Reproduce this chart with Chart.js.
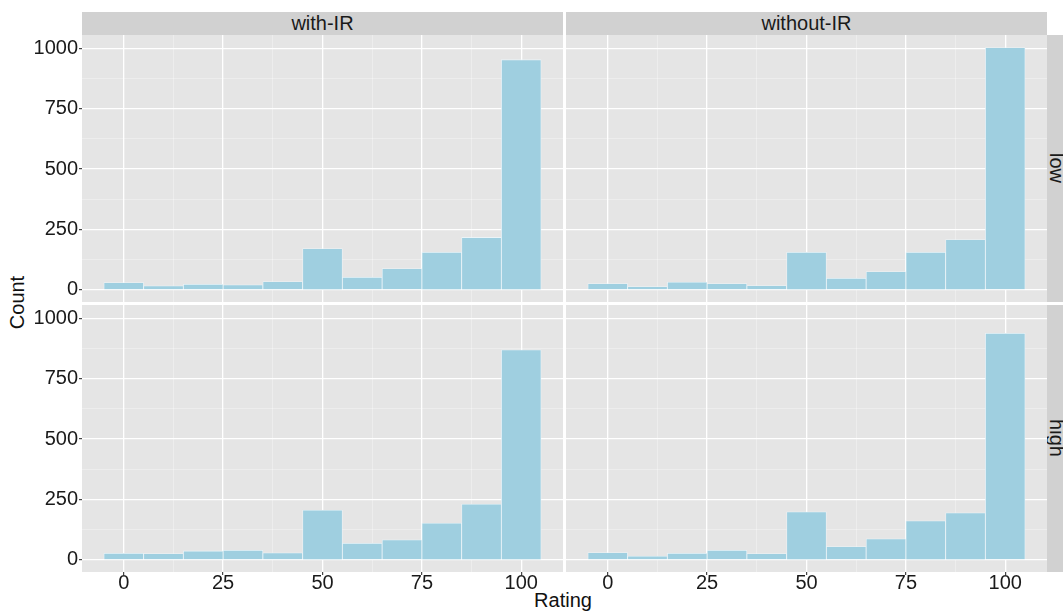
<!DOCTYPE html>
<html><head><meta charset="utf-8">
<script src="https://cdn.jsdelivr.net/npm/chart.js@4.4.1/dist/chart.umd.min.js"></script>
<style>
html,body{margin:0;padding:0;background:#fff;width:1063px;height:615px;overflow:hidden;font-family:"Liberation Sans",Arial,sans-serif;}
canvas{position:absolute;}
.strip{position:absolute;background:#D1D1D1;color:#1a1a1a;font-size:20px;overflow:hidden;white-space:nowrap;}
.strip.top{display:flex;align-items:center;justify-content:center;}
.rot{position:absolute;left:-20px;width:60px;text-align:center;line-height:20px;transform:rotate(90deg);}
.lbl{position:absolute;color:#111;font-size:20px;white-space:nowrap;transform-origin:center center;}
</style></head><body>
<div class="strip top" style="left:82px;top:12px;width:481px;height:23px;">with-IR</div>
<div class="strip top" style="left:566px;top:12px;width:481px;height:23px;">without-IR</div>
<div class="strip" style="left:1047px;top:35px;width:24px;height:267px;"><span class="rot" style="top:123px;">low</span></div>
<div class="strip" style="left:1047px;top:305px;width:24px;height:267px;"><span class="rot" style="top:123px;">high</span></div>
<div class="lbl" style="left:-13px;top:291px;width:60px;text-align:center;transform:rotate(-90deg);">Count</div>
<div class="lbl" style="left:513px;top:589px;width:100px;text-align:center;">Rating</div>

<canvas id="tl" width="563" height="267" style="left:0px;top:35px;width:563px;height:267px;"></canvas>
<canvas id="tr" width="481" height="267" style="left:566px;top:35px;width:481px;height:267px;"></canvas>
<canvas id="bl" width="563" height="297" style="left:0px;top:305px;width:563px;height:297px;"></canvas>
<canvas id="br" width="481" height="297" style="left:566px;top:305px;width:481px;height:297px;"></canvas>

<script>
// ---- data ----
const bins = [0, 10, 20, 30, 40, 50, 60, 70, 80, 90, 100];
const withIR_low     = [30, 17, 23, 21, 34, 171, 52, 88, 156, 217, 953];
const withoutIR_low  = [26, 14, 32, 26, 18, 156, 48, 76, 156, 208, 1003];
const withIR_high    = [27, 26, 37, 40, 29, 206, 69, 83, 152, 231, 870];
const withoutIR_high = [30, 16, 27, 40, 26, 199, 55, 87, 162, 195, 938];
const xTickValues = [0, 12.5, 25, 37.5, 50, 62.5, 75, 87.5, 100];
const xMajor = [0, 25, 50, 75, 100];
const yTickValues = [0, 125, 250, 375, 500, 625, 750, 875, 1000];
const yMajor = [0, 250, 500, 750, 1000];

const panelBg = {
  id: 'panelBg',
  beforeDraw(chart) {
    const {ctx, chartArea: a} = chart;
    ctx.save();
    ctx.fillStyle = '#E5E5E5';
    ctx.fillRect(a.left, a.top, a.right - a.left, a.bottom - a.top);
    ctx.restore();
  }
};

const FONT = {family: '"Liberation Sans", Arial, sans-serif', size: 20};

function makePanel(id, values, showY, showX) {
  const data = bins.map((b, i) => ({x: b, y: values[i]}));
  new Chart(document.getElementById(id), {
    type: 'bar',
    data: {
      datasets: [{
        data: data,
        backgroundColor: '#9FCFE0',
        borderColor: 'rgba(235,245,250,0.9)',
        borderWidth: 0.8,
        barPercentage: 1,
        categoryPercentage: 1
      }]
    },
    plugins: [panelBg],
    options: {
      responsive: false,
      animation: false,
      devicePixelRatio: 1,
      layout: {padding: 0},
      plugins: {legend: {display: false}, tooltip: {enabled: false}, title: {display: false}},
      scales: {
        x: {
          type: 'linear',
          min: -10.5, max: 110.5,
          offset: false,
          border: {display: false},
          afterBuildTicks: s => { s.ticks = xTickValues.map(v => ({value: v})); },
          afterFit: s => { s.height = showX ? 30 : 0; s.paddingLeft = 0; s.paddingRight = 0; },
          grid: {
            offset: false,
            drawTicks: showX,
            tickLength: 3,
            tickWidth: 1.1,
            tickColor: c => (c.tick && xMajor.includes(c.tick.value)) ? '#333333' : 'rgba(0,0,0,0)',
            color: c => (c.tick && xMajor.includes(c.tick.value)) ? '#FFFFFF' : 'rgba(255,255,255,0.55)',
            lineWidth: c => (c.tick && xMajor.includes(c.tick.value)) ? 1.3 : 0.6
          },
          ticks: {
            display: showX,
            autoSkip: false,
            maxRotation: 0,
            padding: -2,
            color: '#1a1a1a',
            font: Object.assign({lineHeight: 1}, FONT),
            callback: v => xMajor.includes(v) ? String(v) : ''
          }
        },
        y: {
          type: 'linear',
          min: -50.25, max: 1055.25,
          border: {display: false},
          afterBuildTicks: s => { s.ticks = yTickValues.map(v => ({value: v})); },
          afterFit: s => { s.width = showY ? 82 : 0; s.paddingTop = 0; s.paddingBottom = 0; },
          grid: {
            drawTicks: showY,
            tickLength: 3,
            tickWidth: 1.1,
            tickColor: c => (c.tick && yMajor.includes(c.tick.value)) ? '#333333' : 'rgba(0,0,0,0)',
            color: c => (c.tick && yMajor.includes(c.tick.value)) ? '#FFFFFF' : 'rgba(255,255,255,0.55)',
            lineWidth: c => (c.tick && yMajor.includes(c.tick.value)) ? 1.3 : 0.6
          },
          ticks: {
            display: showY,
            autoSkip: false,
            padding: 1,
            color: '#1a1a1a',
            font: FONT,
            callback: v => yMajor.includes(v) ? String(v) : ''
          }
        }
      }
    }
  });
}

makePanel('tl', withIR_low, true, false);
makePanel('tr', withoutIR_low, false, false);
makePanel('bl', withIR_high, true, true);
makePanel('br', withoutIR_high, false, true);
</script>
</body></html>
